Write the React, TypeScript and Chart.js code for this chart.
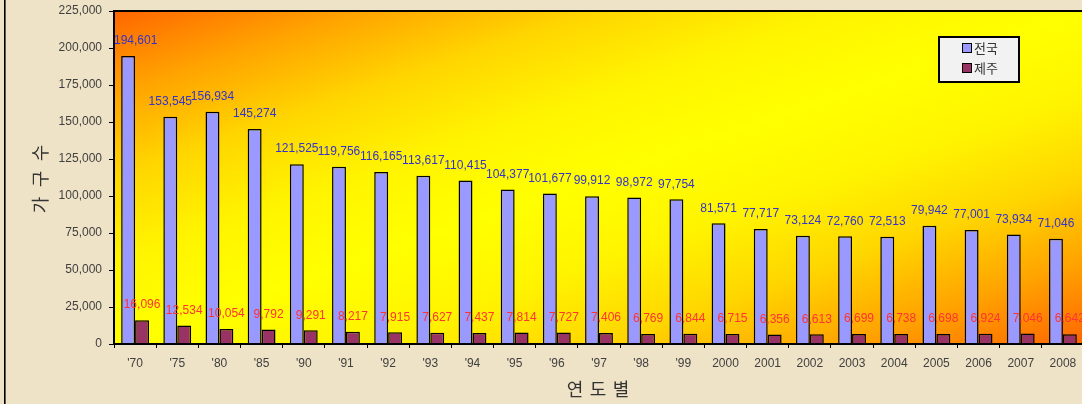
import React, { useEffect, useRef } from "react";
import { Chart, registerables } from "chart.js";

Chart.register(...registerables);

const categories = ["'70", "'75", "'80", "'85", "'90", "'91", "'92", "'93", "'94", "'95", "'96", "'97", "'98", "'99", "2000", "2001", "2002", "2003", "2004", "2005", "2006", "2007", "2008"];
const nationalValues = [194601, 153545, 156934, 145274, 121525, 119756, 116165, 113617, 110415, 104377, 101677, 99912, 98972, 97754, 81571, 77717, 73124, 72760, 72513, 79942, 77001, 73934, 71046];
const jejuValues = [16096, 12534, 10054, 9792, 9291, 8217, 7915, 7627, 7437, 7814, 7727, 7406, 6769, 6844, 6715, 6356, 6613, 6699, 6738, 6698, 6924, 7046, 6642];
const seriesNames = ["전국", "제주"];
const yTitle = ["가", "구", "수"];
const xTitle = ["연", "도", "별"];

const fmt = (v: number) => v.toLocaleString("en-US");
const NUM_FONT = "'Liberation Sans', Arial, sans-serif";
const KR_FONT = "'Noto Sans CJK KR', sans-serif";

const decorPlugin = {
  id: "decor",
  beforeDraw(chart: any) {
    const { ctx, chartArea: a, width, height } = chart;
    ctx.save();
    ctx.fillStyle = "#EFE3C7";
    ctx.fillRect(0, 0, width, height);
    const w = a.right - a.left;
    const h = a.bottom - a.top;
    const n = Math.sqrt(w * w + h * h);
    const dx = h / n, dy = w / n;
    const half = (w * h) / n;
    const cx = (a.left + a.right) / 2, cy = (a.top + a.bottom) / 2;
    const g = ctx.createLinearGradient(cx - dx * half, cy - dy * half, cx + dx * half, cy + dy * half);
    g.addColorStop(0, "#FF6600");
    g.addColorStop(0.125, "#FFA300");
    g.addColorStop(0.25, "#FFD600");
    g.addColorStop(0.375, "#FFF400");
    g.addColorStop(0.5, "#FFFF00");
    g.addColorStop(0.625, "#FFF400");
    g.addColorStop(0.75, "#FFD600");
    g.addColorStop(0.875, "#FFA300");
    g.addColorStop(1, "#FF6600");
    ctx.fillStyle = g;
    ctx.fillRect(a.left, a.top, w, h);
    ctx.fillStyle = "#000";
    ctx.fillRect(4, 0, 1.6, height);
    ctx.restore();
  },
  afterDatasetsDraw(chart: any) {
    const { ctx, chartArea: a } = chart;
    ctx.save();
    ctx.strokeStyle = "#000";
    ctx.lineWidth = 2;
    ctx.strokeRect(a.left, a.top, a.right - a.left, a.bottom - a.top);
    ctx.font = `12px ${NUM_FONT}`;
    ctx.textBaseline = "middle";
    ctx.textAlign = "center";
    const colors = ["#3333CC", "#FF3333"];
    chart.data.datasets.forEach((ds: any, i: number) => {
      const meta = chart.getDatasetMeta(i);
      meta.data.forEach((el: any, j: number) => {
        const txt = fmt(ds.data[j]);
        const tw = ctx.measureText(txt).width;
        let x = el.x;
        if (x - tw / 2 < a.left) x = a.left + tw / 2;
        ctx.fillStyle = colors[i];
        ctx.fillText(txt, x, el.y - 15);
      });
    });
    ctx.restore();
  },
  afterDraw(chart: any) {
    const { ctx } = chart;
    ctx.save();
    ctx.fillStyle = "#333333";
    ctx.font = `18px ${KR_FONT}`;
    ctx.textAlign = "center";
    ctx.textBaseline = "middle";
    xTitle.forEach((c, i) => ctx.fillText(c, 575 + i * 23, 389));
    ctx.translate(40, 179);
    ctx.rotate(-Math.PI / 2);
    yTitle.forEach((c, i) => ctx.fillText(c, -26 + i * 26, 0));
    ctx.restore();

    ctx.save();
    ctx.fillStyle = "#F2F2F2";
    ctx.fillRect(939, 37, 80, 45);
    ctx.strokeStyle = "#000";
    ctx.lineWidth = 2;
    ctx.strokeRect(939, 37, 80, 45);
    const sw = ["#9999FF", "#993366"];
    const ys = [43, 63];
    ctx.font = `13px ${KR_FONT}`;
    ctx.textBaseline = "middle";
    ctx.textAlign = "left";
    for (let i = 0; i < 2; i++) {
      ctx.fillStyle = sw[i];
      ctx.fillRect(962, ys[i], 10, 10);
      ctx.lineWidth = 1;
      ctx.strokeStyle = "#000";
      ctx.strokeRect(962.5, ys[i] + 0.5, 9, 9);
      ctx.fillStyle = "#333333";
      ctx.fillText(seriesNames[i], 974, ys[i] + 5);
    }
    ctx.restore();
  },
};

export default function App() {
  const ref = useRef<HTMLCanvasElement>(null);
  useEffect(() => {
    if (!ref.current) return;
    const chart = new Chart(ref.current, {
      type: "bar",
      data: {
        labels: categories,
        datasets: [
          { label: seriesNames[0], data: nationalValues, backgroundColor: "#9999FF", borderColor: "#000", borderWidth: 1.5, categoryPercentage: 0.66, barPercentage: 1 },
          { label: seriesNames[1], data: jejuValues, backgroundColor: "#993366", borderColor: "#000", borderWidth: 1.5, categoryPercentage: 0.66, barPercentage: 1 },
        ],
      },
      options: {
        animation: false,
        responsive: false,
        devicePixelRatio: 1,
        layout: { padding: { top: 11, left: 0, right: 6, bottom: 0 } },
        plugins: { legend: { display: false }, tooltip: { enabled: false }, title: { display: false } },
        scales: {
          x: {
            grid: { display: true, drawOnChartArea: false, drawTicks: true, tickLength: 4, tickColor: "#000", offset: true },
            border: { display: true, color: "#000", width: 2 },
            ticks: { color: "#404040", font: { family: NUM_FONT, size: 12 }, padding: 8, maxRotation: 0, autoSkip: false },
            afterFit: (s: any) => { s.height = 60; s.paddingLeft = 0; s.paddingRight = 0; },
          },
          y: {
            min: 0,
            max: 225000,
            grid: { display: true, drawOnChartArea: false, drawTicks: true, tickLength: 5, tickColor: "#000" },
            border: { display: true, color: "#000", width: 2 },
            ticks: { stepSize: 25000, color: "#404040", font: { family: NUM_FONT, size: 12 }, padding: 7, callback: (v: any) => fmt(Number(v)) },
            afterFit: (s: any) => { s.width = 114; s.paddingTop = 0; s.paddingBottom = 0; },
          },
        },
      },
      plugins: [decorPlugin],
    });
    return () => chart.destroy();
  }, []);
  return (
    <div style={{ position: "fixed", left: 0, top: 0, width: 1082, height: 404, overflow: "hidden" }}>
      <canvas ref={ref} width={1090} height={404} style={{ display: "block", width: 1090, height: 404 }} />
    </div>
  );
}
